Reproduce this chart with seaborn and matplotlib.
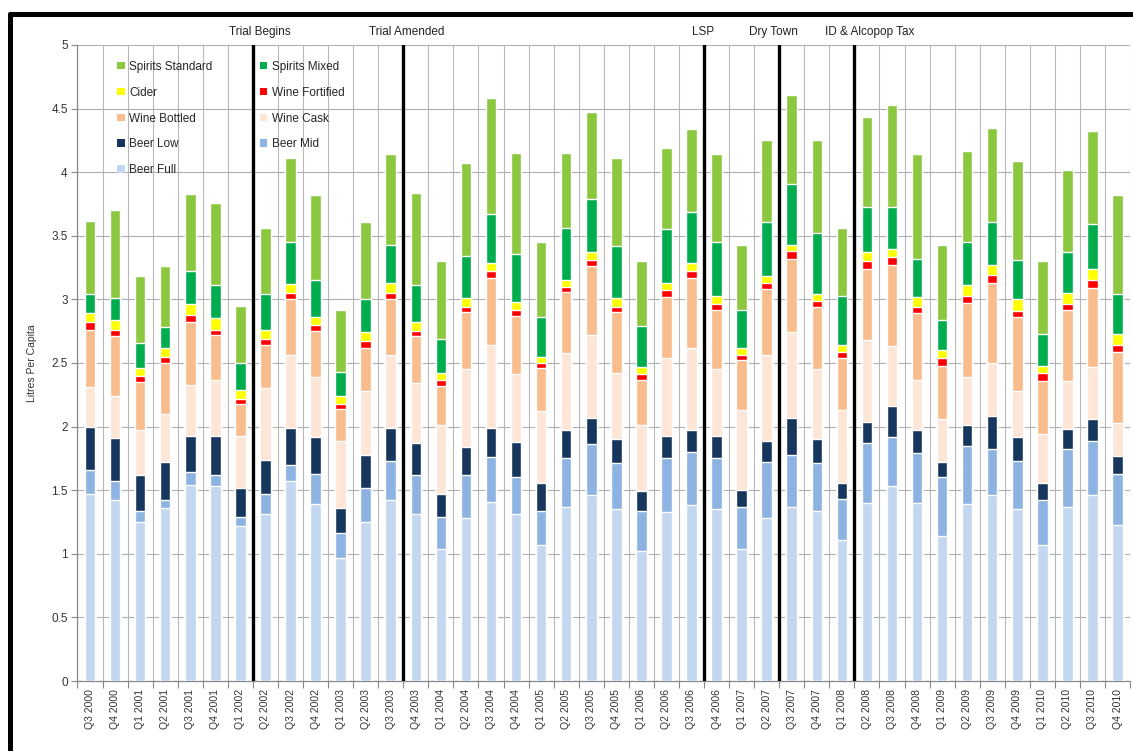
import matplotlib
matplotlib.use("Agg")
import matplotlib.pyplot as plt
import matplotlib.ticker as mticker
from matplotlib.lines import Line2D
from matplotlib.patches import Patch
import seaborn as sns

quarters = [
    "Q3 2000", "Q4 2000",
    "Q1 2001", "Q2 2001", "Q3 2001", "Q4 2001",
    "Q1 2002", "Q2 2002", "Q3 2002", "Q4 2002",
    "Q1 2003", "Q2 2003", "Q3 2003", "Q4 2003",
    "Q1 2004", "Q2 2004", "Q3 2004", "Q4 2004",
    "Q1 2005", "Q2 2005", "Q3 2005", "Q4 2005",
    "Q1 2006", "Q2 2006", "Q3 2006", "Q4 2006",
    "Q1 2007", "Q2 2007", "Q3 2007", "Q4 2007",
    "Q1 2008", "Q2 2008", "Q3 2008", "Q4 2008",
    "Q1 2009", "Q2 2009", "Q3 2009", "Q4 2009",
    "Q1 2010", "Q2 2010", "Q3 2010", "Q4 2010",
]

# cumulative tops of each stacked layer (litres per capita)
top_spirits_standard = [3.62, 3.70, 3.18, 3.26, 3.83, 3.76, 2.95, 3.56, 4.11, 3.82, 2.92, 3.61, 4.14, 3.84,
                        3.30, 4.07, 4.58, 4.15, 3.45, 4.15, 4.47, 4.11, 3.30, 4.19, 4.34, 4.14, 3.43, 4.25,
                        4.61, 4.25, 3.56, 4.43, 4.53, 4.14, 3.43, 4.17, 4.35, 4.09, 3.30, 4.02, 4.32, 3.82]
top_spirits_mixed = [3.04, 3.01, 2.66, 2.78, 3.22, 3.11, 2.50, 3.04, 3.45, 3.15, 2.43, 3.00, 3.43, 3.11,
                     2.69, 3.34, 3.67, 3.36, 2.86, 3.56, 3.79, 3.42, 2.79, 3.55, 3.69, 3.45, 2.92, 3.61,
                     3.91, 3.52, 3.03, 3.73, 3.73, 3.32, 2.84, 3.45, 3.61, 3.31, 2.73, 3.37, 3.59, 3.04]
top_cider = [2.89, 2.84, 2.46, 2.62, 2.96, 2.85, 2.29, 2.76, 3.12, 2.86, 2.24, 2.74, 3.13, 2.82,
             2.42, 3.01, 3.29, 2.98, 2.55, 3.15, 3.37, 3.01, 2.47, 3.13, 3.29, 3.03, 2.62, 3.18,
             3.43, 3.04, 2.64, 3.37, 3.40, 3.02, 2.60, 3.11, 3.27, 3.00, 2.48, 3.05, 3.24, 2.73]
top_wine_fortified = [2.82, 2.76, 2.40, 2.55, 2.88, 2.76, 2.22, 2.69, 3.05, 2.80, 2.18, 2.67, 3.05, 2.75,
                      2.37, 2.94, 3.22, 2.92, 2.50, 3.10, 3.31, 2.94, 2.41, 3.07, 3.22, 2.96, 2.56, 3.13,
                      3.38, 2.99, 2.59, 3.30, 3.33, 2.94, 2.54, 3.03, 3.19, 2.91, 2.42, 2.96, 3.15, 2.64]
top_wine_bottled = [2.76, 2.71, 2.35, 2.50, 2.82, 2.72, 2.18, 2.64, 3.00, 2.75, 2.14, 2.62, 3.00, 2.71,
                    2.32, 2.90, 3.17, 2.87, 2.46, 3.06, 3.26, 2.90, 2.37, 3.02, 3.17, 2.92, 2.52, 3.08,
                    3.32, 2.94, 2.54, 3.24, 3.27, 2.89, 2.48, 2.97, 3.13, 2.86, 2.36, 2.92, 3.09, 2.59]
top_wine_cask = [2.31, 2.24, 1.97, 2.10, 2.33, 2.37, 1.93, 2.30, 2.56, 2.39, 1.89, 2.28, 2.56, 2.34,
                 2.01, 2.45, 2.64, 2.41, 2.12, 2.58, 2.72, 2.42, 2.01, 2.54, 2.62, 2.45, 2.13, 2.56,
                 2.74, 2.45, 2.13, 2.68, 2.63, 2.37, 2.06, 2.39, 2.50, 2.28, 1.94, 2.36, 2.47, 2.03]
top_beer_low = [2.00, 1.91, 1.62, 1.72, 1.93, 1.93, 1.52, 1.74, 1.99, 1.92, 1.36, 1.78, 1.99, 1.87,
                1.47, 1.84, 1.99, 1.88, 1.56, 1.97, 2.07, 1.90, 1.49, 1.93, 1.97, 1.93, 1.50, 1.89,
                2.07, 1.90, 1.56, 2.04, 2.16, 1.97, 1.72, 2.01, 2.08, 1.92, 1.56, 1.98, 2.06, 1.77]
top_beer_mid = [1.66, 1.57, 1.34, 1.42, 1.64, 1.62, 1.29, 1.47, 1.70, 1.63, 1.16, 1.52, 1.73, 1.62,
                1.29, 1.62, 1.76, 1.60, 1.34, 1.75, 1.86, 1.71, 1.34, 1.75, 1.80, 1.75, 1.37, 1.72,
                1.78, 1.71, 1.43, 1.87, 1.92, 1.79, 1.60, 1.85, 1.82, 1.73, 1.42, 1.82, 1.89, 1.63]
top_beer_full = [1.47, 1.42, 1.25, 1.36, 1.54, 1.53, 1.22, 1.31, 1.57, 1.39, 0.97, 1.25, 1.42, 1.31,
                 1.04, 1.28, 1.41, 1.31, 1.07, 1.37, 1.46, 1.35, 1.02, 1.33, 1.38, 1.35, 1.04, 1.28,
                 1.37, 1.34, 1.11, 1.40, 1.53, 1.40, 1.14, 1.39, 1.46, 1.35, 1.07, 1.37, 1.46, 1.23]

# policy events: boundary between two quarters
event_labels = ["Trial Begins", "Trial Amended", "LSP", "Dry Town", "ID & Alcopop Tax"]
event_after = ["Q1 2002", "Q3 2003", "Q3 2006", "Q2 2007", "Q1 2008"]

# top layer first, each later layer drawn over it
layers = [
    ("Spirits Standard", top_spirits_standard, "#8cc83f"),
    ("Spirits Mixed", top_spirits_mixed, "#00ad4e"),
    ("Cider", top_cider, "#ffff00"),
    ("Wine Fortified", top_wine_fortified, "#ff0000"),
    ("Wine Bottled", top_wine_bottled, "#f9bc8c"),
    ("Wine Cask", top_wine_cask, "#fde6d6"),
    ("Beer Low", top_beer_low, "#17365d"),
    ("Beer Mid", top_beer_mid, "#8db3e2"),
    ("Beer Full", top_beer_full, "#c3d7f0"),
]

sns.set_theme(style="whitegrid")
plt.rcParams["font.family"] = ["Liberation Sans Narrow", "Liberation Sans", "DejaVu Sans"]

fig = plt.figure(figsize=(11.33, 7.51), dpi=100)
ax = fig.add_axes([0.0684, 0.0932, 0.9290, 0.8469])

for name, tops, color in layers:
    sns.barplot(x=quarters, y=tops, color=color, width=0.42, errorbar=None,
                saturation=1, ax=ax, zorder=3)

for lab, q in zip(event_labels, event_after):
    xpos = quarters.index(q) + 0.5
    ax.axvline(xpos, ymin=0, ymax=1, color="black", lw=2.4, zorder=4)

label_x = [6.76, 12.64, 24.45, 27.28, 31.11]
for lab, xl in zip(event_labels, label_x):
    ax.text(xl, 1.02, lab, transform=ax.get_xaxis_transform(), ha="center", va="center",
            fontsize=8.5, color="#222222")

ax.set_ylim(0, 5)
ax.set_xlim(-0.5, len(quarters) - 0.5)
ax.yaxis.set_major_locator(mticker.MultipleLocator(0.5))
ax.yaxis.set_major_formatter(mticker.FuncFormatter(lambda v, p: f"{v:g}"))
ax.set_xticks(range(len(quarters)))
ax.set_xticklabels(quarters, rotation=90, fontsize=7.5, color="#333333")
ax.set_xticks([i - 0.5 for i in range(len(quarters) + 1)], minor=True)
ax.tick_params(axis="x", which="major", length=0, pad=6)
ax.tick_params(axis="x", which="minor", length=5, width=0.8, color="#888888", bottom=True, direction="out")
ax.tick_params(axis="y", labelsize=8.5, length=4, width=0.8, color="#888888", left=True, direction="out",
               labelcolor="#333333", pad=3)

ax.grid(False)
ax.grid(axis="y", which="major", color="#b0b0b0", lw=0.8, zorder=0)
ax.grid(axis="x", which="minor", color="#b8b8b8", lw=0.8, zorder=0)
ax.set_axisbelow(True)
for s in ["top", "right"]:
    ax.spines[s].set_visible(False)
for s in ["left", "bottom"]:
    ax.spines[s].set_color("#888888")
    ax.spines[s].set_linewidth(0.9)

ax.set_ylabel("Litres Per Capita", fontsize=7.5, color="#333333", labelpad=10)
ax.set_xlabel("")

# legend: two columns filled row by row
by_name = {n: c for n, _, c in layers}
order = ["Spirits Standard", "Cider", "Wine Bottled", "Beer Low", "Beer Full",
         "Spirits Mixed", "Wine Fortified", "Wine Cask", "Beer Mid"]
handles = [Patch(facecolor=by_name[n], edgecolor="none", label=n) for n in order]
ax.legend(handles=handles, ncol=2, loc="upper left", bbox_to_anchor=(0.038, 0.975),
          frameon=False, fontsize=8.5, handlelength=0.6, handleheight=0.6, handletextpad=0.4,
          labelspacing=1.17, columnspacing=4.0, borderaxespad=0, borderpad=0)

# thick frame around the figure
fig.add_artist(Line2D([0.0084, 1.0], [0.982, 0.982], transform=fig.transFigure, color="black", lw=3.6))
fig.add_artist(Line2D([0.0084, 0.0084], [0.0, 0.982], transform=fig.transFigure, color="black", lw=3.6))

fig.savefig("out.png", dpi=100)
